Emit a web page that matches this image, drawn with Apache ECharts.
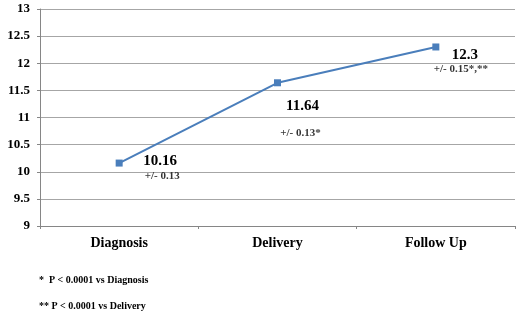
<!DOCTYPE html>
<html>
<head>
<meta charset="utf-8">
<script src="https://cdn.jsdelivr.net/npm/echarts@6/dist/echarts.min.js"></script>
<style>
  html, body { margin: 0; padding: 0; background: #fff; }
  #chart { width: 520px; height: 316px; }
</style>
</head>
<body>
<div id="chart"></div>
<script>
// data
var categories = ['Diagnosis', 'Delivery', 'Follow Up'];
var means = [10.16, 11.64, 12.3];
var errLabels = ['+/- 0.13', '+/- 0.13*', '+/- 0.15*,**'];
var footnotes = ['*  P < 0.0001 vs Diagnosis', '** P < 0.0001 vs Delivery'];

// label placement relative to each marker (px)
var valueOffsets = [[41, -2], [25, 23], [29, 8]];
var errOffsets = [[43, 13], [23, 50], [25, 22]];

var font = '"Liberation Serif", "Times New Roman", serif';
var chart = echarts.init(document.getElementById('chart'));

var option = {
    animation: false,
    grid: {left: 40, right: 5, top: 9, bottom: 90},
    xAxis: {
        type: 'category',
        data: categories,
        boundaryGap: true,
        axisLine: {lineStyle: {color: '#868686', width: 1}},
        axisTick: {show: true, length: 3, lineStyle: {color: '#868686'}},
        axisLabel: {color: '#000', fontFamily: font, fontWeight: 'bold', fontSize: 14, margin: 10}
    },
    yAxis: {
        type: 'value',
        min: 9,
        max: 13,
        interval: 0.5,
        axisLine: {show: true, lineStyle: {color: '#868686', width: 1}},
        axisTick: {show: true, length: 3, lineStyle: {color: '#868686'}},
        splitLine: {lineStyle: {color: '#a6a6a6', width: 1}},
        axisLabel: {color: '#000', fontFamily: font, fontWeight: 'bold', fontSize: 13, margin: 10}
    },
    series: [
        {
            type: 'line',
            data: means.map(function (v, i) {
                return {
                    value: v,
                    label: {offset: valueOffsets[i]}
                };
            }),
            symbol: 'rect',
            symbolSize: 7,
            lineStyle: {color: '#4a7ebb', width: 2},
            itemStyle: {color: '#4a7ebb'},
            label: {
                show: true,
                position: 'inside',
                align: 'center',
                verticalAlign: 'middle',
                color: '#000',
                fontFamily: font,
                fontWeight: 'bold',
                fontSize: 15
            },
            z: 3
        },
        {
            type: 'scatter',
            data: means.map(function (v, i) {
                return {
                    value: v,
                    label: {offset: errOffsets[i], formatter: errLabels[i]}
                };
            }),
            symbolSize: 0.01,
            itemStyle: {color: 'rgba(0,0,0,0)'},
            label: {
                show: true,
                position: 'inside',
                align: 'center',
                verticalAlign: 'middle',
                color: '#000',
                fontFamily: font,
                fontWeight: 'bold',
                fontSize: 11
            },
            silent: true
        }
    ],
    graphic: footnotes.map(function (t, i) {
        return {
            type: 'text',
            left: 39,
            top: 275 + i * 26,
            style: {text: t, fill: '#000', font: 'bold 10px ' + font}
        };
    })
};

chart.setOption(option);
</script>
</body>
</html>
